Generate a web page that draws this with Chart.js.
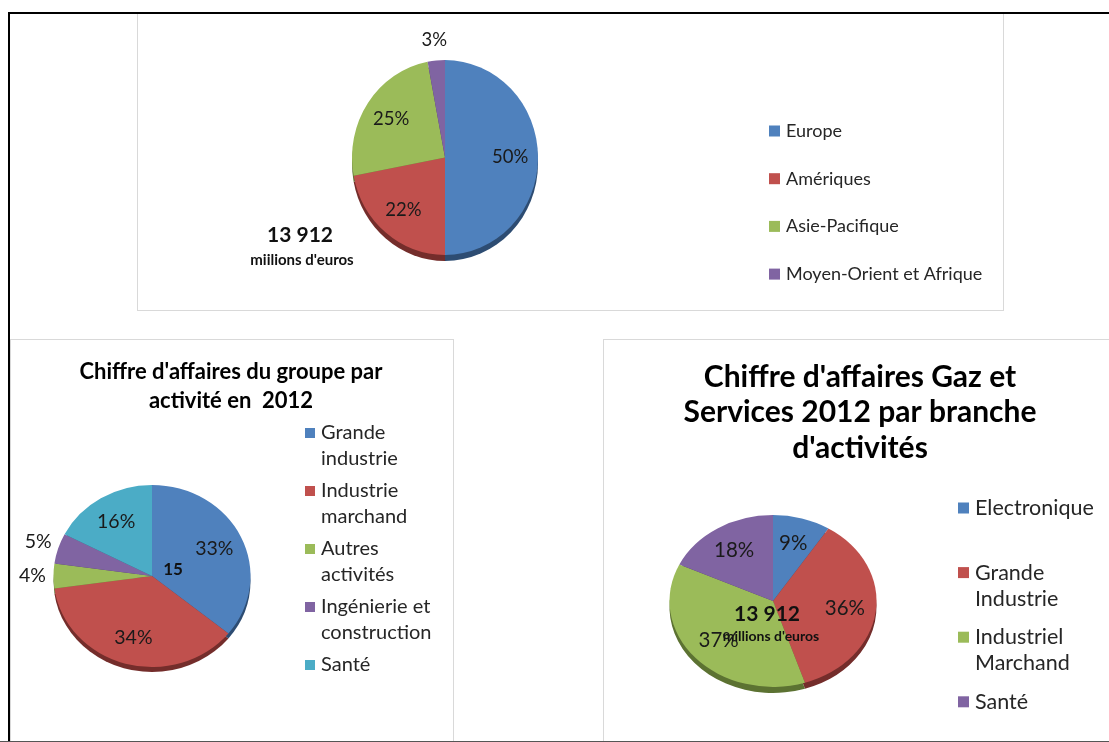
<!DOCTYPE html>
<html lang="fr">
<head>
<meta charset="utf-8">
<title>Chiffre d'affaires 2012</title>
<script src="https://cdn.jsdelivr.net/npm/chart.js@4.4.1/dist/chart.umd.min.js"></script>
<style>
  html, body { margin: 0; padding: 0; background: #fff; }
  #page { position: relative; width: 1109px; height: 742px; overflow: hidden; }
  .panel { position: absolute; box-sizing: border-box; border: 1px solid #d9d9d9; background: #fff; }
  #p1 { left: 137px; top: 13px; width: 867px; height: 298px; }
  #p2 { left: 10px; top: 339px; width: 444px; height: 420px; }
  #p3 { left: 603px; top: 339px; width: 520px; height: 420px; }
  .frame { position: absolute; left: 8px; top: 12px; width: 1200px; height: 800px; border-top: 2px solid #000; border-left: 2px solid #000; }
  .bottom { position: absolute; left: 0; top: 741px; width: 1109px; height: 1px; background: #555; }
  canvas { position: absolute; left: 0; top: 0; }
</style>
</head>
<body>
<div id="page">
  <div class="panel" id="p1"></div>
  <div class="panel" id="p2"></div>
  <div class="panel" id="p3"></div>
  <div class="frame"></div>
  <canvas id="regions" width="1109" height="742"></canvas>
  <canvas id="activities" width="1109" height="742"></canvas>
  <canvas id="branches" width="1109" height="742"></canvas>
  <div class="bottom"></div>
</div>
<script>
// Chiffre d'affaires par zone géographique
const regionLabels = [["Europe"], ["Amériques"], ["Asie-Pacifique"], ["Moyen-Orient et Afrique"]];
const regionShares = [50, 22, 25, 3];

// Chiffre d'affaires du groupe par activité
const activityLabels = [["Grande", "industrie"], ["Industrie", "marchand"], ["Autres", "activités"], ["Ingénierie et", "construction"], ["Santé"]];
const activityShares = [33, 34, 4, 5, 16];

// Gaz et Services par branche
const branchLabels = [["Electronique"], ["Grande", "Industrie"], ["Industriel", "Marchand"], ["Santé"]];
const branchShares = [9, 36, 37, 18];

// Office 2007 palette, plus darker shades for the 3D edge
const faceColors = ["#4F81BD", "#C0504D", "#9BBB59", "#8064A2", "#4BACC6"];
const rimColors = ["#2D4C72", "#742D2B", "#5C7232", "#4B3A61", "#2B687A"];

const W = 1109, H = 742;
const FONT = "Lato, 'Open Sans', sans-serif";

// tilted pie: squash face vertically, paint a darker edge under it, then texts
const excelPie = {
  id: "excelPie",
  beforeDatasetsDraw(chart, args, o) {
    const ctx = chart.ctx;
    const arcs = chart.getDatasetMeta(0).data;
    const cy = arcs[0].y;
    ctx.save();
    ctx.translate(0, cy);
    ctx.scale(1, o.sy);
    ctx.translate(0, -cy);
    arcs.forEach((arc, i) => {
      const dy = o.depth / o.sy;
      ctx.beginPath();
      ctx.moveTo(arc.x, arc.y + dy);
      ctx.arc(arc.x, arc.y + dy, arc.outerRadius, arc.startAngle, arc.endAngle);
      ctx.closePath();
      ctx.fillStyle = rimColors[i];
      ctx.fill();
    });
  },
  afterDatasetsDraw(chart) {
    chart.ctx.restore();
  },
  afterDraw(chart, args, o) {
    const ctx = chart.ctx;
    const arcs = chart.getDatasetMeta(0).data;
    const values = chart.data.datasets[0].data;
    const total = values.reduce((a, b) => a + b, 0);
    ctx.save();
    ctx.textAlign = "center";
    ctx.textBaseline = "middle";

    // notes in the middle of the pie
    (o.notes || []).forEach(n => {
      ctx.font = "bold " + n.size + "px " + FONT;
      ctx.fillStyle = "#111";
      ctx.fillText(n.text, n.x, n.y);
    });

    // percentage labels
    ctx.font = o.labelSize + "px " + FONT;
    ctx.fillStyle = "#1a1a1a";
    arcs.forEach((arc, i) => {
      const mid = (arc.startAngle + arc.endAngle) / 2;
      const r = arc.outerRadius;
      let px, py;
      if (values[i] / total < 0.06) {
        px = arc.x + Math.cos(mid) * (r + o.gap);
        py = arc.y + Math.sin(mid) * (r * o.sy + o.gap);
      } else {
        px = arc.x + Math.cos(mid) * r * 0.7;
        py = arc.y + Math.sin(mid) * r * o.sy * 0.7;
      }
      ctx.fillText(values[i] + "%", px, py);
    });

    // title
    if (o.title) {
      ctx.font = "bold " + o.title.size + "px " + FONT;
      ctx.fillStyle = "#000";
      o.title.lines.forEach((t, k) => ctx.fillText(t, o.title.x, o.title.y + k * o.title.lineH));
    }

    // legend
    const lg = o.legend;
    ctx.textAlign = "left";
    ctx.font = lg.size + "px " + FONT;
    chart.data.labels.forEach((lines, i) => {
      const y = lg.y + i * lg.step;
      ctx.fillStyle = faceColors[i];
      ctx.fillRect(lg.x, y - lg.box / 2, lg.box, lg.box);
      ctx.fillStyle = "#262626";
      lines.forEach((t, k) => ctx.fillText(t, lg.x + lg.box + 6, y + k * lg.lineH));
    });
    ctx.restore();
  }
};

function makePie(id, labels, values, cx, cy, rx, extra) {
  const a = Math.min(cx, W - cx), b = Math.min(cy, H - cy);
  return new Chart(document.getElementById(id), {
    type: "pie",
    data: {
      labels: labels,
      datasets: [{
        data: values,
        backgroundColor: faceColors.slice(0, values.length),
        borderWidth: 0,
        clip: false
      }]
    },
    options: {
      responsive: false,
      animation: false,
      events: [],
      radius: rx,
      layout: { padding: { left: cx - a, right: W - cx - a, top: cy - b, bottom: H - cy - b } },
      plugins: {
        legend: { display: false },
        tooltip: { enabled: false },
        excelPie: extra
      }
    },
    plugins: [excelPie]
  });
}

document.addEventListener("DOMContentLoaded", function() {
  makePie("regions", regionLabels, regionShares, 445, 157.5, 93, {
    sy: 1.048, depth: 6, labelSize: 18.5, gap: 21,
    notes: [
      { text: "13 912", size: 21, x: 300, y: 235 },
      { text: "miilions d'euros", size: 15, x: 302, y: 260 }
    ],
    legend: { x: 769, y: 131, step: 47.7, lineH: 25, box: 11, size: 18 }
  });

  makePie("activities", activityLabels, activityShares, 152, 576, 98.5, {
    sy: 0.924, depth: 5, labelSize: 19.5, gap: 21,
    notes: [{ text: "15", size: 17, x: 173, y: 570 }],
    title: { lines: ["Chiffre d'affaires du groupe par", "activité en  2012"], x: 231, y: 372, lineH: 29, size: 22 },
    legend: { x: 305, y: 433, step: 58, lineH: 25.5, box: 10, size: 20 }
  });

  makePie("branches", branchLabels, branchShares, 773, 601, 103.5, {
    sy: 0.83, depth: 6, labelSize: 20.5, gap: 21,
    notes: [
      { text: "13 912", size: 21, x: 767, y: 614 },
      { text: "millions d'euros", size: 14, x: 771, y: 636 }
    ],
    title: { lines: ["Chiffre d'affaires Gaz et", "Services 2012 par branche", "d'activités"], x: 860, y: 377, lineH: 35.5, size: 30 },
    legend: { x: 958, y: 508, step: 64.6, lineH: 26, box: 11, size: 21.5 }
  });
});
</script>
</body>
</html>
